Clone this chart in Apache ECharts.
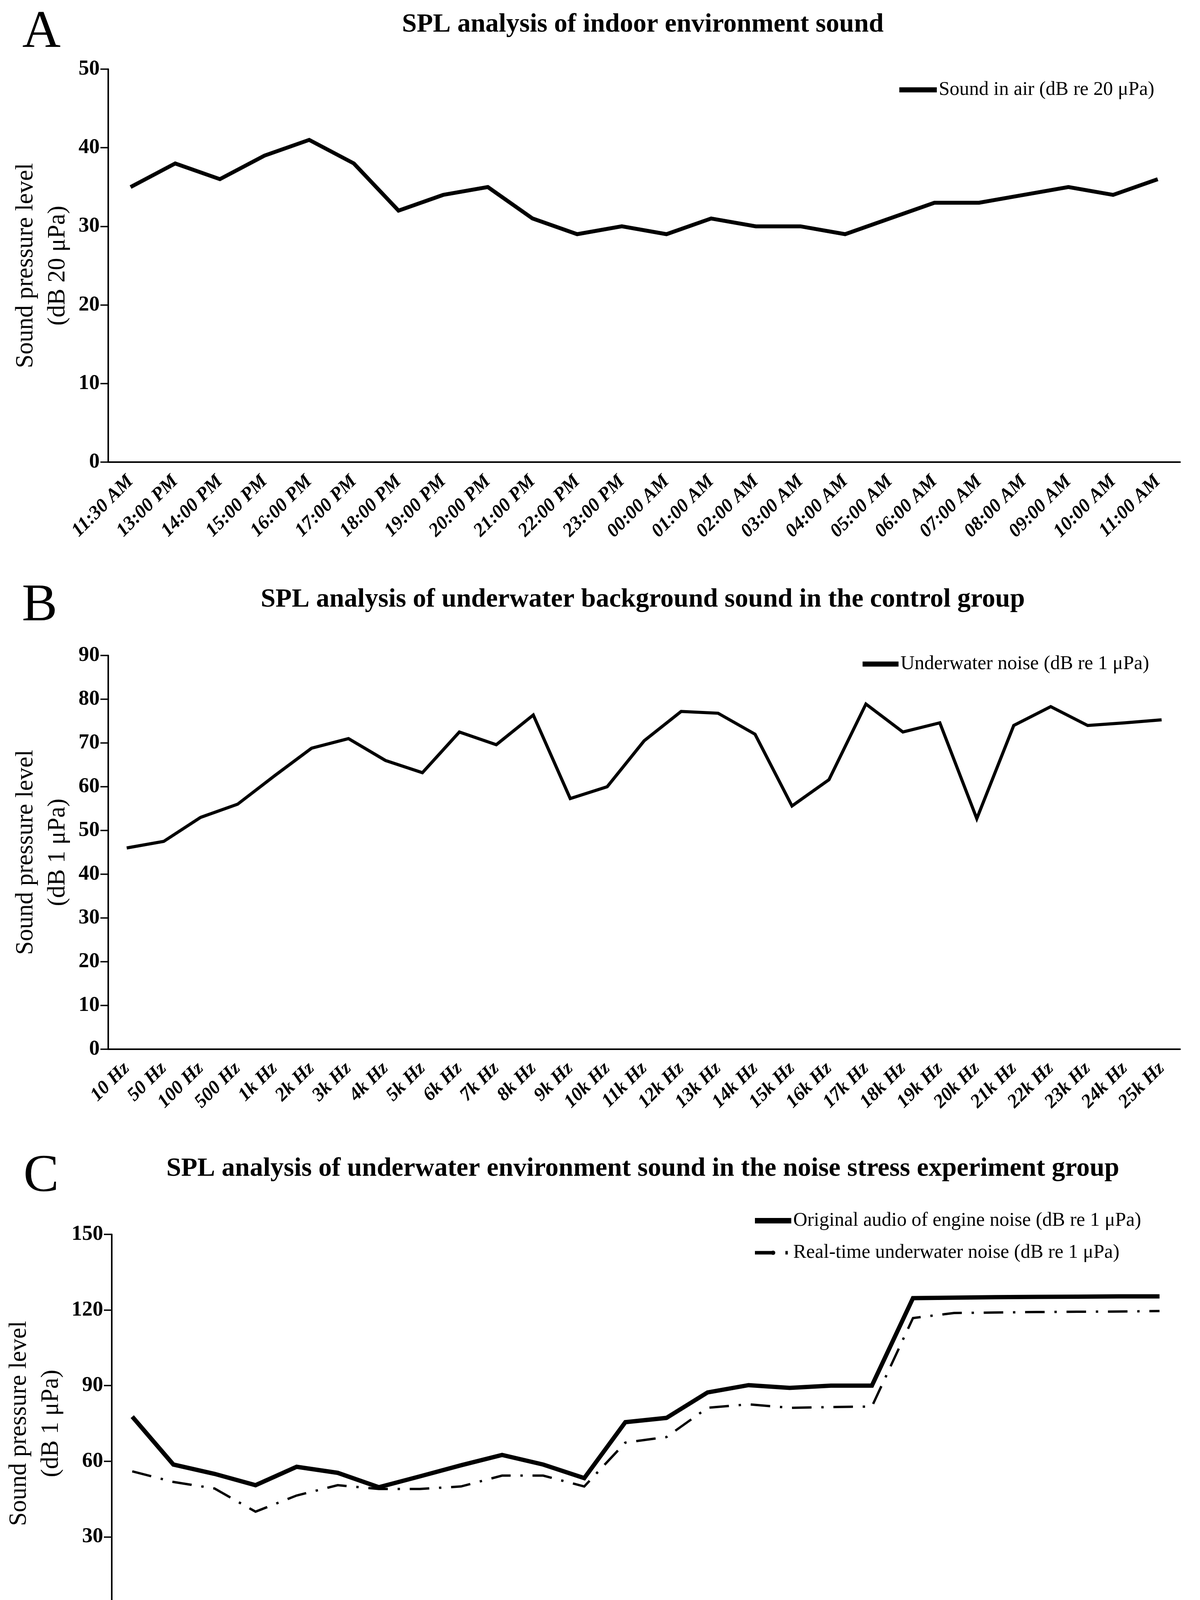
<!DOCTYPE html>
<html><head><meta charset="utf-8">
<script src="https://cdn.jsdelivr.net/npm/echarts@6/dist/echarts.min.js"></script>
<style>html,body{margin:0;padding:0;background:#fff}#c{width:3071px;height:4341px}</style>
</head><body><div id="c"></div>
<script>
// ---- Data ----
const timeLabels = ['11:30 AM','13:00 PM','14:00 PM','15:00 PM','16:00 PM','17:00 PM','18:00 PM','19:00 PM','20:00 PM','21:00 PM','22:00 PM','23:00 PM','00:00 AM','01:00 AM','02:00 AM','03:00 AM','04:00 AM','05:00 AM','06:00 AM','07:00 AM','08:00 AM','09:00 AM','10:00 AM','11:00 AM'];
const airSPL = [35,38,36,39,41,38,32,34,35,31,29,30,29,31,30,30,29,31,33,33,34,35,34,36];

const freqLabelsB = ['10 Hz','50 Hz','100 Hz','500 Hz','1k Hz','2k Hz','3k Hz','4k Hz','5k Hz','6k Hz','7k Hz','8k Hz','9k Hz','10k Hz','11k Hz','12k Hz','13k Hz','14k Hz','15k Hz','16k Hz','17k Hz','18k Hz','19k Hz','20k Hz','21k Hz','22k Hz','23k Hz','24k Hz','25k Hz'];
const underwaterB = [46,47.5,53,56,62.5,68.8,71,66,63.2,72.5,69.6,76.4,57.3,60,70.5,77.2,76.8,72,55.6,61.6,78.9,72.5,74.6,52.7,74,78.3,74,74.6,75.3];

const freqLabelsC = ['10 Hz','50 Hz','100 Hz','500 Hz','1k Hz','2k Hz','3k Hz','4k Hz','5k Hz','6k Hz','7k Hz','8k Hz','9k Hz','10k Hz','11k Hz','12k Hz','13k Hz','14k Hz','15k Hz','16k Hz','17k Hz','18k Hz','19k Hz','20k Hz','21k Hz','22k Hz'];
const engineC = [77.7,58.7,55,50.5,57.8,55.4,49.7,54,58.4,62.5,58.7,53.3,75.5,77.2,87.3,90.2,89.1,90,90,124.7,124.9,125.1,125.2,125.3,125.4,125.4];
const realtimeC = [56,51.8,49.2,40,46.4,50.5,49,49,50,54.3,54.3,50,67.4,69.6,81.2,82.6,81.2,81.5,81.7,116.8,118.8,119,119.2,119.3,119.4,119.6];

const yTicksA = [0,10,20,30,40,50];
const yTicksB = [0,10,20,30,40,50,60,70,80,90];
const yTicksC = [0,30,60,90,120,150];

const nameA = 'Sound in air (dB re 20 μPa)';
const nameB = 'Underwater noise (dB re 1 μPa)';
const nameC1 = 'Original audio of engine noise (dB re 1 μPa)';
const nameC2 = 'Real-time underwater noise (dB re 1 μPa)';

// ---- Styles ----
const FF = "'Liberation Serif','Times New Roman',serif";
const grids = [
  {left:277, top:177, width:2743, height:1006},
  {left:277, top:1678, width:2743, height:1008},
  {left:277, top:3160, width:2743, height:968}
];
function xAxis(idx, data){
  return {
    type:'category', gridIndex:idx, data:data, boundaryGap:true,
    axisLine:{lineStyle:{color:'#000', width:4}},
    axisTick:{inside:true, length:20, lineStyle:{color:'#000', width:3.5}},
    axisLabel:{interval:0, rotate:45, margin:42, color:'#000', fontFamily:FF, fontSize:49, fontWeight:'bold', fontStyle:'italic'},
    splitLine:{show:false}
  };
}
function yAxis(idx, ticks, unit){
  return {
    type:'value', gridIndex:idx, min:ticks[0], max:ticks[ticks.length-1], interval:ticks[1]-ticks[0],
    name:'Sound pressure level\n' + unit, nameLocation:'middle', nameGap:88, nameRotate:90,
    nameTextStyle:{color:'#000', fontFamily:FF, fontSize:63, lineHeight:82},
    axisLine:{show:true, lineStyle:{color:'#000', width:4}},
    axisTick:{show:true, inside:false, length:20, lineStyle:{color:'#000', width:3.5}},
    axisLabel:{margin:22, color:'#000', fontFamily:FF, fontSize:54, fontWeight:'bold'},
    splitLine:{show:false}
  };
}
function title(text, top){
  return {text:text, left:1645, top:top, textAlign:'center', padding:0,
    textStyle:{color:'#000', fontFamily:FF, fontSize:68, fontWeight:'bold'}};
}
const legendText = {color:'#000', fontFamily:FF, fontSize:50};
const dashDot = [50, 25, 6, 25];

const option = {
  backgroundColor:'#fff',
  animation:false,
  title:[
    title('SPL analysis of indoor environment sound', 29),
    title('SPL analysis of underwater background sound in the control group', 1501),
    title('SPL analysis of underwater environment sound in the noise stress experiment group', 2958)
  ],
  legend:[
    {left:2290, top:200, itemWidth:96, itemHeight:14, itemGap:20, textStyle:legendText,
      data:[{name:nameA, lineStyle:{width:13}}]},
    {left:2196, top:1670, itemWidth:92, itemHeight:14, itemGap:20, textStyle:legendText,
      data:[{name:nameB, lineStyle:{width:13}}]},
    {left:1920, top:3095, orient:'vertical', align:'left', itemWidth:93, itemHeight:14, itemGap:32, textStyle:legendText,
      data:[{name:nameC1, lineStyle:{width:14}}, {name:nameC2, lineStyle:{width:9, type:[48,30,6,30]}}]}
  ],
  graphic:[
    {type:'text', left:57, top:16, style:{text:'A', fontFamily:FF, fontSize:136, fill:'#000'}},
    {type:'text', left:56, top:1484, style:{text:'B', fontFamily:FF, fontSize:136, fill:'#000'}},
    {type:'text', left:60, top:2945, style:{text:'C', fontFamily:FF, fontSize:136, fill:'#000'}}
  ],
  grid:grids,
  xAxis:[xAxis(0,timeLabels), xAxis(1,freqLabelsB), xAxis(2,freqLabelsC)],
  yAxis:[yAxis(0,yTicksA,'(dB 20 μPa)'), yAxis(1,yTicksB,'(dB 1 μPa)'), yAxis(2,yTicksC,'(dB 1 μPa)')],
  series:[
    {name:nameA, type:'line', xAxisIndex:0, yAxisIndex:0, data:airSPL, symbol:'none',
      lineStyle:{color:'#000', width:10, join:'miter'}, itemStyle:{color:'#000'}},
    {name:nameB, type:'line', xAxisIndex:1, yAxisIndex:1, data:underwaterB, symbol:'none',
      lineStyle:{color:'#000', width:8, join:'miter'}, itemStyle:{color:'#000'}},
    {name:nameC1, type:'line', xAxisIndex:2, yAxisIndex:2, data:engineC, symbol:'none',
      lineStyle:{color:'#000', width:11, join:'miter'}, itemStyle:{color:'#000'}},
    {name:nameC2, type:'line', xAxisIndex:2, yAxisIndex:2, data:realtimeC, symbol:'none',
      lineStyle:{color:'#000', width:6, type:dashDot, join:'miter'}, itemStyle:{color:'#000'}}
  ]
};
const chart = echarts.init(document.getElementById('c'), null, {renderer:'canvas'});
chart.setOption(option);
</script></body></html>
